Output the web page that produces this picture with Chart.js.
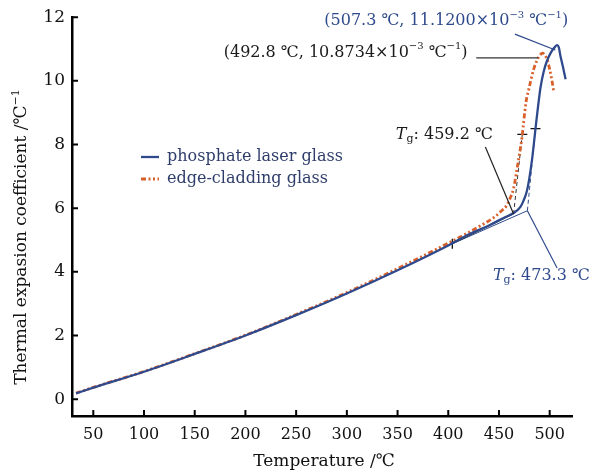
<!DOCTYPE html>
<html>
<head>
<meta charset="utf-8">
<title>Thermal expansion coefficient</title>
<script src="https://cdn.jsdelivr.net/npm/chart.js@4.4.0/dist/chart.umd.min.js"></script>
<style>
  html, body { margin: 0; padding: 0; background: #fff; }
</style>
</head>
<body>
<canvas id="cteChart" width="592" height="475"></canvas>
<script>
// phosphate laser glass
const phosphateTemp = [33, 50, 100, 150, 200, 250, 300, 350, 400, 420, 441, 455, 464, 471, 474, 477.6, 480, 482.5, 485, 487, 489, 491, 494, 497, 501, 505, 507.3, 509, 510.5, 513, 515.7];
const phosphateCte  = [0.18, 0.36, 0.86, 1.42, 2.0, 2.64, 3.32, 4.05, 4.83, 5.17, 5.47, 5.7, 5.84, 6.03, 6.22, 6.55, 6.95, 7.5, 8.2, 8.78, 9.32, 9.8, 10.28, 10.6, 10.88, 11.06, 11.12, 11.05, 10.8, 10.45, 10.05];

// edge-cladding glass
const claddingTemp = [33, 50, 100, 150, 200, 250, 300, 350, 400, 418, 432, 444.7, 452, 457.9, 461.5, 464.4, 467.8, 470.5, 472.7, 476.6, 479.5, 484.2, 488, 490.8, 492.8, 495, 498, 500, 502, 503.9];
const claddingCte  = [0.19, 0.37, 0.87, 1.43, 2.01, 2.66, 3.35, 4.1, 4.9, 5.2, 5.45, 5.7, 5.9, 6.1, 6.35, 6.62, 7.24, 7.75, 8.23, 9.32, 9.75, 10.36, 10.68, 10.82, 10.87, 10.82, 10.62, 10.36, 10.05, 9.68];

// tangent constructions for Tg
const claddingBaseX = [404, 464.4];
const claddingBaseY = [4.88, 5.82];
const claddingSteepX = [464.4, 473];
const claddingSteepY = [5.82, 8.32];
const phosphateBaseX = [404, 478];
const phosphateBaseY = [4.88, 5.92];
const phosphateSteepX = [478, 486];
const phosphateSteepY = [5.92, 8.5];

// tangent points marked on the curves
const markX = [404, 473, 486];
const markY = [4.88, 8.32, 8.5];
const markRot = [90, 0, 0];

// peak and Tg values
const peakPhosphate = [507.3, 11.12];
const peakCladding = [492.8, 10.8734];
const tgCladding = 459.2;
const tgPhosphate = 473.3;

const xTicks = [50, 100, 150, 200, 250, 300, 350, 400, 450, 500];
const yTicks = [0, 2, 4, 6, 8, 10, 12];

const BLUE = '#2f4a8c';
const ORANGE = '#d8602a';
const FONT = '"DejaVu Serif", "Liberation Serif", serif';

function pts(xs, ys) {
  return xs.map((v, i) => ({ x: v, y: ys[i] }));
}

function lineSet(xs, ys, color, width, dash) {
  return {
    data: pts(xs, ys), showLine: true, borderColor: color, borderWidth: width,
    borderDash: dash || [], pointRadius: 0, fill: false, tension: 0
  };
}

// text with sub/superscripts, centred on (cx, cy)
function drawRich(ctx, parts, cx, cy, color) {
  let total = 0;
  parts.forEach(p => {
    ctx.font = (p.style || '') + ' ' + p.size + 'px ' + FONT;
    p.w = ctx.measureText(p.text).width;
    total += p.w;
  });
  let x = cx - total / 2;
  ctx.fillStyle = color;
  ctx.textBaseline = 'middle';
  ctx.textAlign = 'left';
  parts.forEach(p => {
    ctx.font = (p.style || '') + ' ' + p.size + 'px ' + FONT;
    ctx.fillText(p.text, x, cy + (p.dy || 0));
    x += p.w;
  });
}

function peakLabel(t, v) {
  return [
    { text: '(' + t.toFixed(1) + ' ℃, ' + v.toFixed(4) + '×10', size: 16 },
    { text: '−3', size: 10, dy: -6 },
    { text: ' ℃', size: 16 },
    { text: '−1', size: 10, dy: -6 },
    { text: ')', size: 16 }
  ];
}

function tgLabel(t) {
  return [
    { text: 'T', size: 16, style: 'italic' },
    { text: 'g', size: 11, dy: 4 },
    { text: ': ' + t.toFixed(1) + ' ℃', size: 16 }
  ];
}

const notes = {
  id: 'notes',
  afterDraw(chart) {
    const { ctx, chartArea: area, scales: { x, y } } = chart;
    const px = v => x.getPixelForValue(v);
    const py = v => y.getPixelForValue(v);
    ctx.save();

    // inward tick marks
    ctx.strokeStyle = '#000';
    ctx.lineWidth = 2;
    ctx.beginPath();
    xTicks.forEach(t => { ctx.moveTo(px(t), area.bottom); ctx.lineTo(px(t), area.bottom - 6); });
    yTicks.forEach(t => { ctx.moveTo(area.left, py(t)); ctx.lineTo(area.left + 6, py(t)); });
    ctx.stroke();

    // leader lines
    const leader = (x1, y1, x2, y2, color) => {
      ctx.strokeStyle = color;
      ctx.lineWidth = 1.2;
      ctx.beginPath();
      ctx.moveTo(px(x1), py(y1));
      ctx.lineTo(px(x2), py(y2));
      ctx.stroke();
    };
    leader(465.7, 11.47, 505.6, 10.97, BLUE);
    leader(427.6, 10.72, 488.8, 10.72, '#333');
    leader(436.6, 7.92, claddingSteepX[0], claddingSteepY[0], '#222');
    leader(phosphateSteepX[0], phosphateSteepY[0], 507.3, 4.12, BLUE);

    drawRich(ctx, peakLabel(peakPhosphate[0], peakPhosphate[1]), px(398), py(11.88), BLUE);
    drawRich(ctx, peakLabel(peakCladding[0], peakCladding[1]), px(298.8), py(10.88), '#1a1a1a');
    drawRich(ctx, tgLabel(tgCladding), px(396.1), py(8.29), '#1a1a1a');
    drawRich(ctx, tgLabel(tgPhosphate), px(491.8), py(3.87), BLUE);

    // legend
    const sets = chart.data.datasets;
    [[0, 157], [1, 179]].forEach(([i, ly]) => {
      const ds = sets[i];
      ctx.strokeStyle = ds.borderColor;
      ctx.lineWidth = ds.borderWidth;
      ctx.setLineDash(ds.borderDash);
      ctx.beginPath();
      ctx.moveTo(141, ly);
      ctx.lineTo(159, ly);
      ctx.stroke();
      ctx.setLineDash([]);
      ctx.font = '16px ' + FONT;
      ctx.fillStyle = '#2e3d6a';
      ctx.textBaseline = 'middle';
      ctx.textAlign = 'left';
      ctx.fillText(ds.label, 167, ly);
    });

    // axis titles
    ctx.fillStyle = '#111';
    ctx.font = '17px ' + FONT;
    ctx.textAlign = 'center';
    ctx.textBaseline = 'middle';
    ctx.fillText('Temperature /℃', (area.left + area.right) / 2 + 2, 462);
    ctx.translate(22, 237);
    ctx.rotate(-Math.PI / 2);
    drawRich(ctx, [
      { text: 'Thermal expasion coefficient /℃', size: 17 },
      { text: '−1', size: 11, dy: -6 }
    ], 0, 0, '#111');
    ctx.restore();
  }
};

const datasets = [
  Object.assign(lineSet(phosphateTemp, phosphateCte, BLUE, 2.3), { label: 'phosphate laser glass', cubicInterpolationMode: 'monotone' }),
  Object.assign(lineSet(claddingTemp, claddingCte, ORANGE, 2.8, [5, 2.5, 2, 2.5, 2, 2.5]), { label: 'edge-cladding glass', cubicInterpolationMode: 'monotone' }),
  lineSet(claddingBaseX, claddingBaseY, '#333', 1),
  lineSet(phosphateBaseX, phosphateBaseY, BLUE, 1),
  lineSet(claddingSteepX, claddingSteepY, '#333', 1, [4, 3]),
  lineSet(phosphateSteepX, phosphateSteepY, BLUE, 1, [4, 3]),
  {
    data: pts(markX, markY), showLine: false, pointStyle: 'line', pointRadius: 5,
    rotation: markRot, borderColor: '#111', borderWidth: 1.3
  }
];

new Chart(document.getElementById('cteChart'), {
  type: 'scatter',
  data: { datasets },
  options: {
    responsive: false,
    animation: false,
    layout: { padding: { top: 14, right: 20, left: 0, bottom: 0 } },
    plugins: { legend: { display: false }, tooltip: { enabled: false } },
    scales: {
      x: {
        type: 'linear', min: 29, max: 522,
        afterFit: s => { s.height = 59; },
        afterBuildTicks: s => { s.ticks = xTicks.map(v => ({ value: v })); },
        grid: { display: false, drawTicks: false },
        border: { display: true, color: '#000', width: 2.5 },
        ticks: { padding: 9, color: '#111', font: { family: FONT, size: 16 } }
      },
      y: {
        type: 'linear', min: -0.53, max: 12,
        afterFit: s => { s.width = 72; },
        afterBuildTicks: s => { s.ticks = yTicks.map(v => ({ value: v })); },
        grid: { display: false, drawTicks: false },
        border: { display: true, color: '#000', width: 2.5 },
        ticks: { padding: 7, color: '#111', font: { family: FONT, size: 17 } }
      }
    }
  },
  plugins: [notes]
});
</script>
</body>
</html>
